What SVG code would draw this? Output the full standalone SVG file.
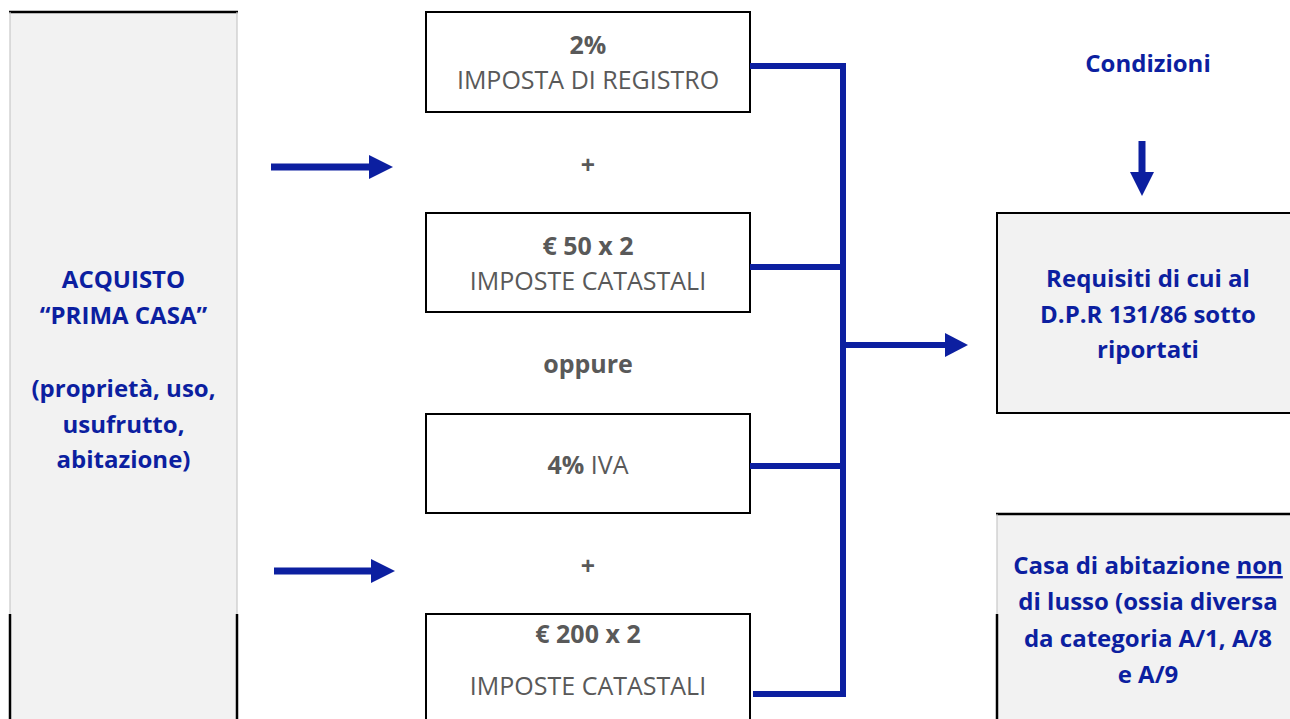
<svg xmlns="http://www.w3.org/2000/svg" width="1290" height="719" viewBox="0 0 1290 719">
<defs>
<style>
.box{fill:#ffffff;stroke:#000000;stroke-width:2}
.gbox{fill:#f2f2f2;stroke:none}
.edgeB{stroke:#000000;stroke-width:2.5;fill:none}
.edgeG{stroke:#c8c8c8;stroke-width:1.2;fill:none}
.conn{stroke:#0c1fa0;stroke-width:6;fill:none}
.head{fill:#0c1fa0;stroke:none}
.gt{font-family:"Open Sans","Noto Sans",sans-serif;fill:#595959;text-anchor:middle;font-size:25px}
.gb{font-weight:bold}
.bt{font-family:"Open Sans","Noto Sans",sans-serif;fill:#0c1fa0;text-anchor:middle;font-size:24px;font-weight:bold}
</style>
</defs>
<rect width="1290" height="719" fill="#ffffff"/>

<g id="node-acquisto">
<rect class="gbox" x="10" y="12" width="227" height="710"/>
<line class="edgeB" x1="9" y1="12" x2="238" y2="12"/>
<line class="edgeG" x1="10" y1="12" x2="10" y2="614"/>
<line class="edgeG" x1="237" y1="12" x2="237" y2="614"/>
<line class="edgeB" x1="10" y1="614" x2="10" y2="719"/>
<line class="edgeB" x1="237" y1="614" x2="237" y2="719"/>
<text class="bt"><tspan x="123.5" y="288">ACQUISTO</tspan><tspan x="123.5" y="324">“PRIMA CASA”</tspan><tspan x="123.5" y="397">(proprietà, uso,</tspan><tspan x="123.5" y="433">usufrutto,</tspan><tspan x="123.5" y="468">abitazione)</tspan></text>
</g>

<g id="node-registro">
<rect class="box" x="426" y="12" width="324" height="100"/>
<text class="gt"><tspan class="gb" x="588" y="54">2%</tspan><tspan x="588" y="89">IMPOSTA DI REGISTRO</tspan></text>
</g>
<g id="label-plus1"><text class="gt gb" x="588" y="174">+</text></g>
<g id="node-catastali50">
<rect class="box" x="426" y="213" width="324" height="99"/>
<text class="gt"><tspan class="gb" x="588" y="255">€ 50 x 2</tspan><tspan x="588" y="290">IMPOSTE CATASTALI</tspan></text>
</g>
<g id="label-oppure"><text class="gt gb" x="588" y="373">oppure</text></g>
<g id="node-iva">
<rect class="box" x="426" y="414" width="324" height="99"/>
<text class="gt" x="588" y="474"><tspan class="gb">4%</tspan> IVA</text>
</g>
<g id="label-plus2"><text class="gt gb" x="588" y="575">+</text></g>
<g id="node-catastali200">
<rect class="box" x="426" y="614" width="324" height="120"/>
<text class="gt"><tspan class="gb" x="588" y="643">€ 200 x 2</tspan><tspan x="588" y="695">IMPOSTE CATASTALI</tspan></text>
</g>

<g id="label-condizioni"><text class="bt" x="1148" y="72">Condizioni</text></g>

<g id="node-requisiti">
<rect class="gbox" x="997" y="213" width="300" height="200"/>
<rect x="997" y="213" width="300" height="200" fill="none" stroke="#000000" stroke-width="2"/>
<text class="bt"><tspan x="1148" y="287">Requisiti di cui al</tspan><tspan x="1148" y="323">D.P.R 131/86 sotto</tspan><tspan x="1148" y="358">riportati</tspan></text>
</g>

<g id="node-casa">
<rect class="gbox" x="997" y="514" width="300" height="210"/>
<line class="edgeB" x1="996" y1="514" x2="1292" y2="514"/>
<line class="edgeG" x1="997" y1="514" x2="997" y2="614"/>
<line class="edgeB" x1="997" y1="614" x2="997" y2="719"/>
<text class="bt"><tspan x="1148" y="574">Casa di abitazione <tspan text-decoration="underline">non</tspan></tspan><tspan x="1148" y="610">di lusso (ossia diversa</tspan><tspan x="1148" y="647">da categoria A/1, A/8</tspan><tspan x="1148" y="683">e A/9</tspan></text>
</g>

<g id="connectors">
<polyline class="conn" points="750,66 843,66 843,694 753,694"/>
<line class="conn" x1="750" y1="267" x2="843" y2="267"/>
<line class="conn" x1="750" y1="466" x2="843" y2="466"/>
<line class="conn" x1="843" y1="345" x2="947" y2="345"/>
<polygon class="head" points="945,333 968,345 945,357"/>
<line class="conn" x1="271" y1="167" x2="371" y2="167" style="stroke-width:7"/>
<polygon class="head" points="369,155 393,167 369,179"/>
<line class="conn" x1="274" y1="571" x2="373" y2="571" style="stroke-width:7"/>
<polygon class="head" points="371,559 395,571 371,583"/>
<line class="conn" x1="1142" y1="141" x2="1142" y2="174" style="stroke-width:7"/>
<polygon class="head" points="1130,172 1154,172 1142,196"/>
</g>
</svg>
